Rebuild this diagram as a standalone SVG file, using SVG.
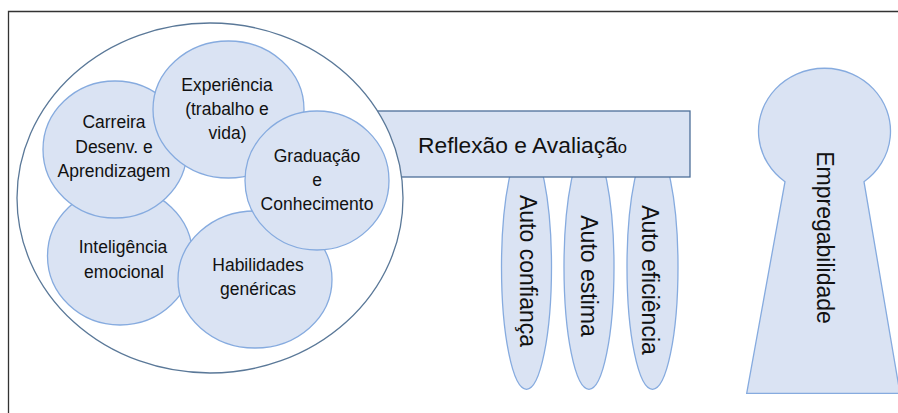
<svg xmlns="http://www.w3.org/2000/svg" width="898" height="413" viewBox="0 0 898 413">
<style>
.bub{fill:#dae3f3;stroke:#86abdf;stroke-width:1.3}
.t{font-family:"Liberation Sans",Arial,sans-serif;font-size:17.5px;fill:#111;text-anchor:middle}
.v{font-family:"Liberation Sans",Arial,sans-serif;font-size:23px;fill:#111;text-anchor:middle}
</style>
<rect width="898" height="413" fill="#fff"/>
<path d="M8.5 413 V11.5 H898" fill="none" stroke="#333" stroke-width="1.3"/>
<g id="auto-confianca">
<ellipse class="bub" cx="526.5" cy="267" rx="25" ry="122.3"/>
<text class="v" transform="translate(520,271) rotate(90)">Auto confiança</text>
</g>
<g id="auto-estima">
<ellipse class="bub" cx="589" cy="267" rx="25" ry="122.3"/>
<text class="v" transform="translate(581,276) rotate(90)">Auto estima</text>
</g>
<g id="auto-eficiencia">
<ellipse class="bub" cx="652.5" cy="267" rx="25.5" ry="122.3"/>
<text class="v" transform="translate(642,280) rotate(90)">Auto eficiência</text>
</g>
<g id="reflexao">
<rect x="360" y="111" width="330" height="66" fill="#dae3f3" stroke="#4d6f99" stroke-width="1.3"/>
<text x="418" y="153" font-family="'Liberation Sans',Arial,sans-serif" font-size="22.8" fill="#111">Reflexão e Avaliaçã<tspan font-size="16.5">o</tspan></text>
</g>
<g id="grupo">
<ellipse cx="210" cy="198" rx="193" ry="175" fill="#fff" stroke="#5a7898" stroke-width="1.3"/>
</g>
<g id="inteligencia">
<ellipse class="bub" cx="120" cy="256" rx="72.5" ry="69"/>
<text class="t"><tspan x="123" y="253.3">Inteligência</tspan><tspan x="124" y="277.7">emocional</tspan></text>
</g>
<g id="carreira">
<ellipse class="bub" cx="115" cy="149.5" rx="72" ry="68.5"/>
<text class="t"><tspan x="114" y="128.3">Carreira</tspan><tspan x="114" y="152.7">Desenv. e</tspan><tspan x="114" y="176.7">Aprendizagem</tspan></text>
</g>
<g id="experiencia">
<ellipse class="bub" cx="228.5" cy="109.5" rx="75.5" ry="68.5"/>
<text class="t"><tspan x="227" y="90.7">Experiência</tspan><tspan x="227" y="115">(trabalho e</tspan><tspan x="227.5" y="139.3">vida)</tspan></text>
</g>
<g id="habilidades">
<ellipse class="bub" cx="255" cy="279.5" rx="77" ry="68.5"/>
<text class="t"><tspan x="258" y="270.7">Habilidades</tspan><tspan x="258" y="295">genéricas</tspan></text>
</g>
<g id="graduacao">
<ellipse class="bub" cx="317" cy="180.5" rx="72" ry="69.5"/>
<text class="t"><tspan x="317" y="161.7">Graduação</tspan><tspan x="317" y="185.7">e</tspan><tspan x="317" y="210">Conhecimento</tspan></text>
</g>
<g id="empregabilidade">
<path class="bub" d="M785 181.7 A66 63 0 1 1 864 181.7 L900 393.3 L746.7 393.3 Z"/>
<text class="v" transform="translate(817,237.5) rotate(90)">Empregabilidade</text>
</g>
<g id="connectors"></g>
</svg>
